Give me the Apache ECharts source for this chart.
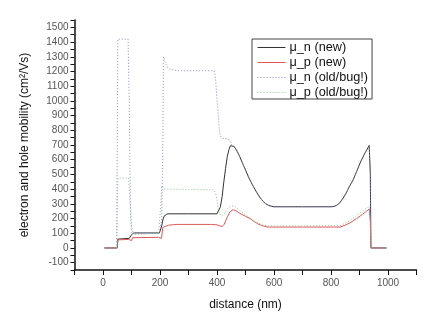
<!DOCTYPE html>
<html>
<head>
<meta charset="utf-8">
<script src="https://cdn.jsdelivr.net/npm/echarts@6/dist/echarts.min.js"></script>
<style>
html,body{margin:0;padding:0;background:#fff;}
#chart{width:433px;height:328px;}
</style>
</head>
<body>
<div id="chart"></div>
<script>
// Series names
var seriesNames = ['\u03bc_n (new)', '\u03bc_p (new)', '\u03bc_n (old/bug!)', '\u03bc_p (old/bug!)'];

// μ_n (new)
var nNewX = [5, 50, 52, 58, 92, 96, 100, 104, 108, 198, 202, 206, 210, 214, 218, 224, 232, 300, 400, 405, 412, 418, 424, 430, 436, 442, 447, 452, 460, 470, 480, 490, 500, 510, 520, 530, 540, 550, 560, 570, 580, 590, 600, 700, 800, 810, 820, 830, 843, 855, 865, 878, 890, 902, 915, 925, 934, 938, 940, 995];
var nNewY = [0, 0, 60, 65, 65, 70, 90, 100, 102, 102, 110, 150, 190, 215, 225, 230, 232, 232, 232, 235, 280, 350, 450, 540, 620, 670, 695, 700, 690, 660, 620, 575, 530, 485, 445, 410, 375, 345, 320, 302, 290, 284, 280, 280, 280, 282, 290, 305, 340, 380, 420, 464, 520, 577, 630, 665, 697, 500, 0, 0];

// μ_p (new)
var pNewX = [5, 50, 52, 58, 90, 95, 100, 104, 108, 195, 200, 205, 210, 215, 230, 260, 380, 400, 410, 418, 425, 435, 445, 456, 465, 480, 500, 516, 530, 545, 560, 579, 700, 832, 850, 870, 890, 910, 925, 934, 938, 940, 993];
var pNewY = [0, 0, 55, 58, 58, 45, 50, 70, 72, 72, 62, 65, 140, 150, 155, 160, 160, 157, 150, 145, 160, 205, 245, 260, 255, 235, 215, 200, 180, 162, 150, 142, 142, 142, 155, 175, 200, 228, 250, 265, 180, 0, 0];

// μ_n (old/bug!)
var nOldX = [5, 48, 50, 52, 88, 92, 96, 100, 105, 110, 198, 206, 210, 212, 215, 225, 235, 260, 390, 395, 400, 405, 408, 412, 418, 440, 448, 452, 460, 470, 480, 490, 500, 510, 520, 530, 540, 550, 560, 570, 580, 590, 600, 700, 800, 810, 820, 830, 843, 855, 865, 878, 890, 902, 915, 925, 934, 938, 940, 995];
var nOldY = [0, 0, 700, 1420, 1420, 1000, 300, 150, 105, 100, 100, 200, 700, 1300, 1280, 1230, 1215, 1205, 1205, 1150, 1000, 900, 800, 760, 745, 740, 720, 700, 690, 660, 620, 575, 530, 485, 445, 410, 375, 345, 320, 302, 290, 284, 280, 280, 280, 282, 290, 305, 340, 380, 420, 464, 520, 577, 630, 665, 697, 500, 0, 0];

// μ_p (old/bug!)
var pOldX = [5, 48, 50, 52, 90, 95, 100, 105, 195, 200, 203, 206, 215, 300, 390, 395, 400, 405, 415, 425, 440, 451, 465, 480, 500, 520, 540, 560, 580, 700, 832, 850, 870, 890, 910, 925, 934, 938, 940, 993];
var pOldY = [0, 0, 250, 475, 475, 300, 90, 100, 100, 95, 300, 420, 400, 398, 395, 370, 330, 250, 215, 230, 275, 287, 280, 255, 225, 195, 172, 158, 150, 150, 152, 168, 192, 220, 250, 272, 282, 180, 0, 0];

// Axis settings
var xMin = -100, xMax = 1100, xStep = 100;
var yMin = -150, yMax = 1550, yStep = 50;

function pairs(xs, ys) {
  var out = [];
  for (var i = 0; i < xs.length; i++) out.push([xs[i], ys[i]]);
  return out;
}

var chart = echarts.init(document.getElementById('chart'), null, {renderer: 'canvas'});
var font = 'Liberation Sans, Arial, sans-serif';

function lineSeries(name, data, color, type) {
  return {
    name: name,
    type: 'line',
    data: data,
    showSymbol: false,
    symbol: 'none',
    animation: false,
    lineStyle: {color: color, width: 1, type: type},
    itemStyle: {color: color}
  };
}

chart.setOption({
  animation: false,
  backgroundColor: '#fff',
  grid: {left: 74.5, right: 16.5, top: 20, bottom: 58, containLabel: false},
  legend: {
    orient: 'vertical',
    left: 252, top: 39,
    borderColor: '#444', borderWidth: 1,
    padding: [2, 4, 0, 5],
    itemGap: 2,
    itemWidth: 28, itemHeight: 14,
    itemStyle: {opacity: 0},
    lineStyle: {width: 1, type: 'inherit'},
    textStyle: {fontFamily: font, fontSize: 12.7, color: '#111', padding: [0, 0, 0, -1]},
    data: seriesNames.map(function (n) { return {name: n}; })
  },
  xAxis: {
    type: 'value',
    min: xMin, max: xMax, interval: xStep,
    name: 'distance (nm)',
    nameLocation: 'middle',
    nameGap: 29,
    nameTextStyle: {fontFamily: font, fontSize: 12, color: '#111'},
    axisLine: {show: true, onZero: false, lineStyle: {color: '#111', width: 1.5}},
    axisTick: {show: true, inside: false, length: 5, lineStyle: {color: '#111', width: 1}},
    axisLabel: {
      fontFamily: font, fontSize: 10, color: '#555', margin: 8,
      formatter: function (v) { return (v >= 0 && v <= 1000 && v % 200 === 0) ? String(v) : ''; }
    },
    splitLine: {show: false}
  },
  yAxis: {
    type: 'value',
    min: yMin, max: yMax, interval: yStep,
    name: 'electron and hole mobility (cm\u00b2/Vs)',
    nameLocation: 'middle',
    nameGap: 44,
    nameRotate: 90,
    nameTextStyle: {fontFamily: font, fontSize: 12, color: '#111'},
    axisLine: {show: true, onZero: false, lineStyle: {color: '#111', width: 1.5}},
    axisTick: {show: true, inside: false, length: 4, lineStyle: {color: '#111', width: 1}},
    axisLabel: {
      fontFamily: font, fontSize: 10, color: '#555', margin: 6,
      formatter: function (v) { return (v >= -100 && v <= 1500 && v % 100 === 0) ? String(v) : ''; }
    },
    splitLine: {show: false}
  },
  series: [
    lineSeries(seriesNames[0], pairs(nNewX, nNewY), '#333333', 'solid'),
    lineSeries(seriesNames[1], pairs(pNewX, pNewY), '#e05a5a', 'solid'),
    lineSeries(seriesNames[2], pairs(nOldX, nOldY), '#8888dd', [1, 2]),
    lineSeries(seriesNames[3], pairs(pOldX, pOldY), '#8cc48c', [1, 2])
  ]
});
</script>
</body>
</html>
